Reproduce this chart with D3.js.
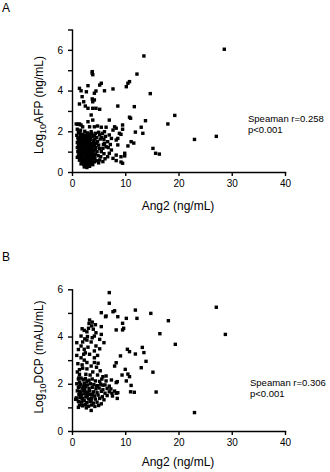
<!DOCTYPE html>
<html>
<head>
<meta charset="utf-8">
<script src="https://cdn.jsdelivr.net/npm/d3@7"></script>
<style>
  body { margin: 0; background: #fff; }
  svg { display: block; }
  text { font-family: Arial, "Liberation Sans", sans-serif; fill: #000; }
  .axis path, .axis line { stroke: #000; stroke-width: 1.4; }
  .axis text { font-size: 10px; }
</style>
</head>
<body>
<div id="chart"></div>
<script>
// x tick values shared by both panels
var xTicks = [0, 10, 20, 30, 40];
var yTicksA = [0, 1, 2, 3, 4, 5, 6, 7];
var yTicksB = [0, 1, 2, 3, 4, 5, 6];

// panel A: Ang2 (ng/mL) vs Log10 AFP (ng/mL)
var pointsA = [
    // sparse / outliers
    [28.6, 6.03], [13.5, 5.70], [12.2, 4.81], [10.8, 4.44], [10.5, 4.36], [10.2, 4.19], [14.7, 3.85],
    [8.6, 3.24], [11.7, 3.21], [19.3, 2.78], [10.8, 2.69], [11.0, 2.64], [13.8, 2.52], [18.0, 2.36],
    [9.5, 2.31], [9.5, 2.10], [8.3, 2.15], [13.0, 2.20], [11.9, 1.96], [13.3, 1.90], [9.2, 1.85],
    [8.6, 1.65], [27.1, 1.75], [23.0, 1.60], [11.1, 1.49], [11.6, 1.42], [10.5, 1.28], [15.2, 1.16],
    [15.7, 0.92], [16.4, 0.88], [9.9, 0.92], [9.9, 0.79], [9.2, 0.75], [8.3, 0.83], [9.2, 0.49],
    [9.5, 0.43], [8.3, 0.56],
    // middle band
    [3.8, 4.93], [3.8, 4.85], [3.9, 4.78], [1.4, 4.11], [1.7, 3.99], [3.0, 4.24], [2.7, 3.94],
    [4.5, 3.98], [4.2, 3.87], [5.5, 4.36], [5.2, 4.27], [6.1, 3.99], [7.7, 4.08], [1.9, 3.70],
    [2.2, 3.45], [3.8, 3.59], [4.2, 3.54], [3.9, 3.45], [2.5, 3.24], [3.0, 3.13], [3.9, 3.13],
    [4.5, 3.13], [5.2, 3.08], [1.4, 3.34], [3.6, 2.80], [3.9, 2.55], [1.1, 2.34], [1.7, 2.31],
    [2.0, 2.22], [3.0, 2.47], [3.3, 2.22], [4.2, 2.22], [4.8, 2.26], [5.5, 2.20], [6.4, 2.20],
    [7.0, 2.55], [8.0, 2.22], [7.7, 2.06], [6.1, 1.98], [5.7, 1.90], [5.2, 1.82], [7.0, 1.82],
    [7.4, 1.65], [6.7, 1.49], [8.9, 1.90], [8.3, 1.57], [8.6, 1.33], [6.1, 1.41], [6.4, 1.24],
    [5.8, 1.16], [5.5, 1.00], [7.4, 1.08], [7.0, 0.92], [6.7, 0.75], [7.7, 0.67], [5.2, 0.59],
    [5.8, 0.51], [0.8, 2.36], [1.4, 2.36], [1.0, 2.10], [1.6, 2.05],
    [5.6, 1.70], [6.3, 1.75], [5.9, 1.35], [6.8, 1.20], [5.4, 0.75], [6.2, 0.65], [6.0, 0.90],
    [5.0, 0.45], [4.6, 0.55], [7.2, 1.35],
    // dense cluster
    [1.2, 1.95], [2.4, 2.00], [2.9, 1.92], [3.6, 1.98], [4.4, 1.90], [5.0, 1.95],
    [0.9, 1.80], [1.6, 1.75], [2.1, 1.78], [2.7, 1.72], [3.3, 1.80], [3.9, 1.74], [4.6, 1.70], [5.3, 1.62],
    [1.3, 1.60], [1.9, 1.62], [2.5, 1.58], [3.0, 1.65], [3.5, 1.60], [4.1, 1.55], [4.8, 1.50], [6.0, 1.60],
    [1.0, 1.45], [1.5, 1.48], [2.0, 1.42], [2.3, 1.50], [2.8, 1.44], [3.2, 1.47], [3.7, 1.40], [4.3, 1.38], [5.0, 1.32],
    [1.2, 1.30], [1.7, 1.28], [2.2, 1.33], [2.6, 1.25], [3.0, 1.30], [3.4, 1.27], [3.9, 1.22], [4.5, 1.20], [5.2, 1.15],
    [1.4, 1.15], [1.9, 1.12], [2.4, 1.18], [2.8, 1.10], [3.2, 1.15], [3.6, 1.08], [4.1, 1.05], [4.7, 1.00],
    [1.1, 1.00], [1.6, 0.98], [2.1, 1.02], [2.5, 0.95], [2.9, 1.00], [3.3, 0.97], [3.8, 0.92], [4.4, 0.88],
    [1.3, 0.85], [1.8, 0.82], [2.2, 0.88], [2.7, 0.80], [3.1, 0.86], [3.5, 0.80], [4.0, 0.75], [4.9, 0.80],
    [1.0, 0.72], [1.5, 0.70], [2.0, 0.68], [2.4, 0.74], [2.9, 0.66], [3.3, 0.70], [3.7, 0.62], [4.3, 0.65],
    [1.4, 0.58], [1.9, 0.52], [2.3, 0.56], [2.7, 0.50], [3.1, 0.55], [3.6, 0.48], [4.2, 0.50],
    [1.7, 0.40], [2.2, 0.38], [2.6, 0.42], [3.0, 0.35], [3.4, 0.40], [3.9, 0.36],
    [2.3, 0.25], [2.8, 0.22], [3.3, 0.28],
    [1.8, 1.10], [2.6, 1.40], [3.1, 0.78], [2.0, 0.90], [3.5, 1.15], [2.4, 0.62], [1.6, 1.35],
    [2.9, 1.55], [3.8, 1.30], [2.2, 1.68],
    [1.5, 1.88], [2.0, 1.85], [2.6, 1.82], [3.1, 1.86], [3.7, 1.88], [4.2, 1.80],
    [1.1, 1.68], [1.8, 1.66], [2.4, 1.70], [3.4, 1.68], [4.3, 1.62],
    [1.2, 1.52], [1.8, 1.55], [2.5, 1.50], [3.3, 1.52], [4.0, 1.45], [4.6, 1.42],
    [1.4, 1.38], [2.1, 1.36], [2.9, 1.36], [3.5, 1.35], [4.2, 1.28],
    [1.0, 1.20], [1.6, 1.22], [2.3, 1.24], [3.0, 1.20], [3.7, 1.18], [4.4, 1.10],
    [1.3, 1.06], [2.0, 1.15], [2.6, 1.05], [3.4, 1.04], [3.9, 1.02],
    [1.5, 0.90], [2.3, 0.94], [2.8, 0.90], [3.6, 0.90], [4.2, 0.82],
    [1.2, 0.78], [1.7, 0.76], [2.6, 0.72], [3.2, 0.62], [3.9, 0.68],
    [1.6, 0.62], [2.1, 0.60], [2.8, 0.58], [3.4, 0.52],
    [2.0, 0.46], [2.5, 0.48], [2.9, 0.44], [3.7, 0.44], [2.5, 0.32], [3.1, 0.30]
];

// panel B: Ang2 (ng/mL) vs Log10 DCP (mAU/mL)
var pointsB = [
    // sparse / outliers
    [27.1, 5.24], [28.8, 4.09], [23.0, 0.78], [19.4, 3.67], [18.1, 4.67], [16.5, 4.12], [14.8, 4.98],
    [15.8, 1.65], [15.2, 2.49], [13.9, 2.95], [13.5, 3.32], [13.2, 3.54], [13.0, 2.68], [11.9, 5.12],
    [12.2, 4.77], [10.2, 4.77], [9.5, 4.56], [9.5, 4.28], [9.7, 4.35], [8.6, 4.84], [8.0, 5.09],
    [8.3, 4.28], [10.4, 3.46], [10.8, 3.36], [11.9, 3.26], [9.1, 3.18], [8.3, 2.89], [8.0, 2.75],
    [10.0, 2.61], [10.5, 2.41], [10.8, 2.30], [9.4, 2.37], [8.5, 2.09], [10.2, 2.12], [11.1, 1.93],
    [11.0, 1.66], [11.7, 1.64], [8.3, 1.60], [8.5, 1.38], [7.7, 5.05], [6.4, 4.87],
    // middle band
    [7.0, 5.86], [7.0, 5.41], [5.5, 5.01], [6.3, 4.84], [3.3, 4.70], [3.8, 4.61], [3.2, 4.55],
    [3.7, 4.45], [1.9, 4.33], [2.3, 4.26], [2.8, 4.20], [4.0, 4.31], [4.5, 4.16], [5.5, 4.42],
    [5.5, 4.09], [1.7, 4.02], [2.9, 4.00], [4.2, 4.02], [0.9, 3.74], [2.0, 3.77], [2.8, 3.85],
    [3.6, 3.77], [5.2, 3.88], [6.0, 3.74], [1.7, 3.60], [2.3, 3.46], [4.5, 3.60], [5.2, 3.48],
    [4.2, 3.39], [2.5, 3.31], [3.3, 3.25], [4.2, 3.10], [1.7, 3.10], [2.3, 3.00], [2.8, 2.90],
    [4.2, 2.90], [4.9, 2.87], [4.6, 2.70], [1.4, 2.60], [2.0, 2.66], [2.8, 2.63], [3.9, 2.50],
    [3.4, 2.37], [4.8, 2.37], [1.4, 2.40], [1.7, 2.24], [2.1, 2.17], [1.4, 2.07], [6.4, 2.33],
    [7.4, 2.16], [6.4, 2.12], [5.2, 2.10], [5.8, 1.94], [7.0, 1.90], [8.3, 2.05], [8.0, 1.69],
    [8.6, 1.62], [7.5, 1.60], [3.6, 0.87],
    [3.0, 3.55], [3.8, 3.95], [4.8, 3.20], [2.6, 2.40], [3.6, 2.75], [5.3, 2.55], [5.8, 2.30],
    [4.4, 4.50], [2.4, 3.90], [3.1, 4.35], [1.9, 2.80], [2.2, 3.25],
    [0.9, 3.20], [1.1, 2.85], [1.2, 3.45], [1.0, 2.50], [1.3, 2.25], [0.7, 1.34], [0.9, 1.38],
    // dense cluster
    [1.2, 2.20], [2.5, 2.22], [3.2, 2.15], [3.8, 2.20], [4.4, 2.12], [5.6, 2.20],
    [0.9, 2.00], [1.6, 1.98], [2.3, 2.02], [2.9, 1.95], [3.5, 2.00], [4.1, 1.96], [4.8, 1.92], [5.4, 1.98], [6.2, 1.95],
    [1.2, 1.85], [1.9, 1.82], [2.6, 1.88], [3.2, 1.80], [3.8, 1.85], [4.5, 1.78], [5.1, 1.82], [5.8, 1.75], [6.6, 1.80], [7.3, 1.78],
    [1.0, 1.70], [1.5, 1.68], [2.1, 1.72], [2.7, 1.65], [3.3, 1.70], [4.0, 1.66], [4.7, 1.62], [5.5, 1.68], [6.2, 1.60], [7.0, 1.66],
    [1.3, 1.55], [1.8, 1.52], [2.4, 1.58], [2.9, 1.50], [3.5, 1.55], [4.2, 1.48], [4.9, 1.52], [5.7, 1.45], [6.6, 1.50], [7.6, 1.48],
    [0.8, 1.40], [1.5, 1.42], [2.0, 1.38], [2.6, 1.44], [3.1, 1.36], [3.7, 1.40], [4.4, 1.35], [5.2, 1.38], [6.0, 1.32],
    [1.2, 1.25], [1.8, 1.22], [2.3, 1.28], [2.8, 1.20], [3.4, 1.25], [4.0, 1.18], [4.7, 1.22], [5.5, 1.15],
    [1.4, 1.10], [2.0, 1.08], [2.5, 1.12], [3.1, 1.05], [3.7, 1.10], [4.3, 1.04], [5.0, 1.08],
    [1.2, 1.00], [2.0, 1.07], [2.7, 0.98],
    [1.7, 1.60], [2.2, 1.90], [3.0, 1.62], [3.6, 1.30], [2.4, 1.75], [1.9, 1.35], [4.6, 1.90],
    [2.8, 2.10], [1.4, 1.90], [3.9, 1.55]
];

var svg = d3.select("#chart").append("svg")
    .attr("width", 330)
    .attr("height", 472);

// both panels share the same x scale
var x = d3.scaleLinear()
    .domain([0, 40])
    .range([72, 285]);

function drawPanel(cfg) {
    var y = d3.scaleLinear()
        .domain([0, cfg.yMax])
        .range([cfg.bottom, cfg.top]);

    var g = svg.append("g");

    // points
    g.selectAll("rect")
        .data(cfg.points)
        .enter()
        .append("rect")
        .attr("x", function (d) { return x(d[0]) - 1.7; })
        .attr("y", function (d) { return y(d[1]) - 1.7; })
        .attr("width", 3.4)
        .attr("height", 3.4)
        .attr("fill", "#000");

    // x axis
    g.append("g")
        .attr("class", "axis")
        .attr("transform", "translate(0," + cfg.bottom + ")")
        .call(d3.axisBottom(x)
            .tickValues(xTicks)
            .tickSize(4)
            .tickSizeOuter(0)
            .tickPadding(4));

    // y axis, labels only on even ticks
    g.append("g")
        .attr("class", "axis")
        .attr("transform", "translate(72,0)")
        .call(d3.axisLeft(y)
            .tickValues(cfg.yTicks)
            .tickSize(4)
            .tickSizeOuter(0)
            .tickPadding(5)
            .tickFormat(function (d) { return d % 2 === 0 ? d : ""; }));

    g.selectAll(".axis .domain").attr("stroke-linecap", "square");

    // x label
    g.append("text")
        .attr("x", 178)
        .attr("y", cfg.xLabelY)
        .attr("text-anchor", "middle")
        .style("font-size", "12px")
        .text("Ang2 (ng/mL)");

    // y label with subscript 10
    var yl = g.append("text")
        .attr("transform", "translate(43," + cfg.yLabelMid + ") rotate(-90)")
        .attr("text-anchor", "middle")
        .style("font-size", "12px");
    yl.append("tspan").text("Log");
    yl.append("tspan").attr("dy", 3).style("font-size", "9px").text("10");
    yl.append("tspan").attr("dy", -3).text(cfg.yName);

    // stats
    g.append("text")
        .attr("x", cfg.statX)
        .attr("y", cfg.statY)
        .style("font-size", "9.5px")
        .text(cfg.stat1);
    g.append("text")
        .attr("x", cfg.statX)
        .attr("y", cfg.statY + 11)
        .style("font-size", "9.5px")
        .text("p<0.001");

    // panel letter
    svg.append("text")
        .attr("x", 2)
        .attr("y", cfg.letterY)
        .style("font-size", "12px")
        .text(cfg.letter);
}

drawPanel({
    points: pointsA, yMax: 7, yTicks: yTicksA, top: 29.5, bottom: 172,
    yName: "AFP (ng/mL)", yLabelMid: 105, xLabelY: 210,
    stat1: "Speaman r=0.258", statX: 248, statY: 122,
    letter: "A", letterY: 12
});

drawPanel({
    points: pointsB, yMax: 6, yTicks: yTicksB, top: 289.3, bottom: 431,
    yName: "DCP (mAU/mL)", yLabelMid: 357, xLabelY: 466,
    stat1: "Speaman r=0.306", statX: 250, statY: 386,
    letter: "B", letterY: 261
});
</script>
</body>
</html>
